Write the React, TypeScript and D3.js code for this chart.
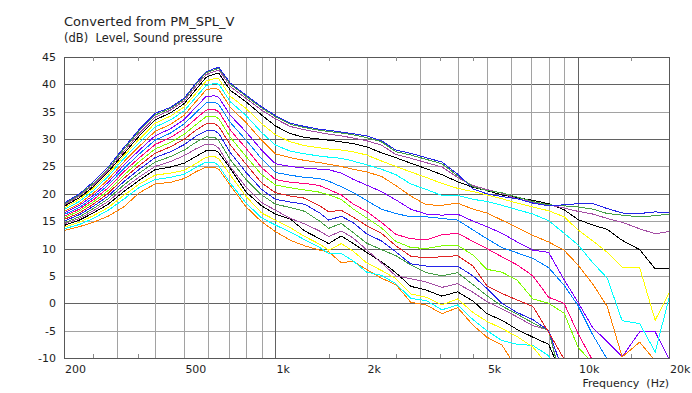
import { useEffect, useRef } from "react";
import * as d3 from "d3";

// frequency points (Hz)
const freqs = [200, 225, 250, 280, 315, 355, 400, 450, 500, 545, 590, 630, 650, 710, 800, 900, 1000,
  1120, 1250, 1400, 1500, 1650, 1800, 2000, 2240, 2500, 2800, 3150, 3550, 4000, 4500, 5000, 5600,
  6300, 7100, 8000, 9000, 10000, 11200, 12500, 14000, 16000, 18000, 20000];

// SPL curves (dB), top curve first; null = below the plotted range
const c0 = [18.3, 20.0, 22.2, 24.9, 28.4, 31.8, 34.7, 35.8, 37.5, 40.2, 42.3, 42.9, 43.1, 40.2, 38.0, 35.9, 34.3, 32.9, 32.3, 31.8, 31.6, 31.3, 31.0, 30.6, 29.7, 28.0, 27.4, 26.6, 25.8, 23.6, 20.9, 20.0, 19.5, 19.1, 18.3, 17.8, 18.0, 18.2, 18.2, 17.3, 16.5, 16.4, 16.7, 16.5];
const c1 = [18.1, 19.8, 21.9, 24.6, 28.1, 31.5, 34.4, 35.6, 37.3, 40.0, 42.1, 42.7, 42.9, 40.0, 37.8, 35.7, 34.1, 32.7, 32.1, 31.6, 31.4, 31.1, 30.8, 30.3, 29.5, 27.7, 27.1, 26.3, 25.5, 23.3, 21.3, 20.6, 20.2, 19.4, 18.6, 18.0, 17.8, 17.6, 17.2, 16.4, 16.1, 15.8, 16.0, 16.3];
const c2 = [17.9, 19.6, 21.6, 24.3, 27.7, 31.1, 34.0, 35.3, 37.0, 39.6, 41.8, 42.4, 42.6, 39.6, 37.4, 35.3, 33.7, 32.3, 31.7, 31.2, 30.9, 30.6, 30.2, 29.7, 28.9, 27.2, 26.5, 25.7, 24.9, 23.0, 21.5, 20.8, 20.1, 19.1, 18.5, 18.0, 17.4, 16.8, 16.3, 15.5, 14.8, 13.6, 12.7, 13.1];
const c3 = [17.7, 19.3, 21.3, 24.0, 27.3, 30.6, 33.5, 34.8, 36.5, 39.0, 41.3, 41.9, 42.0, 38.9, 36.8, 34.4, 32.4, 31.0, 30.3, 30.0, 29.8, 29.5, 29.2, 28.6, 27.5, 26.6, 25.6, 24.6, 23.5, 22.2, 21.2, 20.6, 19.8, 19.3, 18.8, 18.2, 17.1, 15.3, 14.3, 13.5, 11.5, 9.8, 6.3, 6.3];
const c4 = [17.4, 19.0, 21.0, 23.6, 26.9, 30.0, 32.9, 34.2, 35.9, 38.3, 40.6, 41.1, 41.0, 37.8, 35.6, 32.8, 30.8, 29.5, 28.8, 28.4, 28.2, 28.0, 27.7, 27.1, 26.0, 25.0, 24.0, 23.0, 21.9, 21.0, 20.4, 19.8, 19.1, 18.3, 17.6, 16.9, 15.8, 13.4, 11.4, 9.3, 6.6, 6.5, -3.1, 1.8];
const c5 = [17.1, 18.6, 20.6, 23.2, 26.4, 29.4, 32.2, 33.5, 35.2, 37.6, 39.8, 40.2, 40.0, 36.8, 34.3, 31.2, 28.9, 27.8, 27.3, 26.9, 26.7, 26.5, 26.0, 25.3, 24.5, 23.5, 21.8, 20.8, 19.7, 19.7, 19.0, 18.6, 17.9, 17.1, 16.3, 15.1, 12.8, 10.7, 7.4, 4.6, -3.2, -3.7, -8.9, 0.9];
const c6 = [16.8, 18.2, 20.1, 22.6, 25.8, 28.7, 31.4, 32.7, 34.4, 36.8, 39.0, 39.3, 39.0, 35.8, 33.0, 29.8, 27.3, 26.6, 26.1, 25.7, 25.4, 25.0, 24.5, 24.0, 23.2, 21.5, 19.6, 18.0, 17.9, 18.3, 17.2, 16.5, 15.2, 13.8, 12.4, 11.2, 9.7, 7.0, 3.5, -0.6, -9.8, -7.1, -10.5, null];
const c7 = [16.5, 17.9, 19.7, 22.1, 25.2, 28.0, 30.6, 31.9, 33.6, 35.8, 37.8, 37.9, 37.6, 34.3, 31.3, 28.0, 25.5, 25.0, 24.7, 24.5, 24.4, 23.8, 22.7, 21.6, 20.4, 18.9, 17.2, 16.3, 16.1, 16.3, 15.0, 14.0, 12.8, 11.2, 9.7, 9.3, 4.3, 0.2, -4.5, -7.0, -9.8, -5.2, -5.2, -10.2];
const c8 = [16.2, 17.5, 19.3, 21.6, 24.6, 27.3, 29.8, 31.1, 32.8, 34.8, 36.6, 36.7, 36.3, 33.0, 29.8, 26.4, 23.9, 23.4, 23.0, 22.8, 22.3, 21.3, 20.3, 18.8, 17.2, 16.4, 15.8, 15.8, 15.5, 15.2, 13.4, 11.8, 10.2, 9.2, 8.2, 6.5, 3.3, -0.4, -5.8, -10.2, null, null, null, null];
const c9 = [15.9, 17.2, 18.9, 21.1, 24.0, 26.6, 29.0, 30.3, 31.9, 33.7, 35.3, 35.4, 35.0, 31.6, 28.3, 24.8, 22.6, 22.1, 21.9, 21.5, 20.8, 19.8, 18.2, 16.8, 14.8, 12.6, 11.8, 11.6, 12.5, 12.8, 11.3, 10.0, 8.5, 7.0, 5.0, 1.1, 0.0, -5.5, -10.5, null, null, null, null, null];
const c10 = [15.6, 16.9, 18.5, 20.6, 23.4, 25.9, 28.2, 29.4, 30.9, 32.6, 34.1, 34.2, 33.7, 30.3, 26.8, 23.5, 21.6, 21.1, 20.7, 20.3, 19.8, 19.0, 17.3, 15.6, 13.8, 11.3, 10.2, 10.0, 10.5, 10.6, 8.8, 6.2, 5.7, 4.2, 0.8, 0.0, -1.8, -8.0, -11.0, null, null, null, null, null];
const c11 = [15.3, 16.5, 18.1, 20.1, 22.8, 25.2, 27.4, 28.6, 30.0, 31.6, 32.8, 32.8, 32.3, 28.9, 25.4, 22.0, 20.2, 19.6, 19.2, 17.8, 16.7, 17.0, 15.8, 14.2, 12.8, 10.5, 8.6, 8.3, 8.5, 8.7, 6.8, 3.2, 1.8, 0.6, -0.6, -5.3, -10.2, null, null, null, null, null, null, null];
const c12 = [15.0, 16.2, 17.7, 19.6, 22.2, 24.5, 26.6, 27.7, 29.0, 30.5, 31.5, 31.5, 31.0, 27.5, 23.9, 20.8, 19.0, 18.5, 18.1, 16.5, 15.2, 15.9, 14.8, 12.7, 11.4, 9.4, 7.2, 6.8, 6.7, 6.8, 5.0, 2.7, 0.0, -1.7, -3.0, -5.0, -13.0, null, null, null, null, null, null, null];
const c13 = [14.7, 15.8, 17.3, 19.1, 21.6, 23.8, 25.8, 26.8, 28.0, 29.4, 30.4, 30.3, 29.7, 26.2, 22.6, 19.8, 18.1, 17.5, 16.8, 15.0, 13.7, 14.6, 13.0, 11.0, 9.8, 8.7, 7.0, 5.6, 5.0, 5.6, 3.4, 1.4, -0.5, -2.0, -3.6, -5.0, -16.0, null, null, null, null, null, null, null];
const c14 = [14.5, 15.5, 16.9, 18.6, 21.0, 23.1, 25.0, 25.9, 27.0, 28.2, 29.1, 28.9, 28.3, 24.9, 21.2, 18.4, 17.0, 15.5, 14.5, 13.2, 12.2, 13.2, 12.0, 9.8, 7.4, 5.0, 4.5, 3.9, 2.9, 3.6, 2.0, 0.3, -1.0, -2.5, -4.1, -4.9, -16.0, null, null, null, null, null, null, null];
const c15 = [14.2, 15.2, 16.5, 18.1, 20.4, 22.5, 24.4, 24.9, 25.6, 26.8, 27.9, 28.0, 27.5, 24.6, 20.3, 17.8, 16.3, 15.4, 13.2, 11.8, 10.9, 12.3, 11.0, 9.3, 7.6, 5.6, 3.1, 2.4, 1.3, 2.1, 0.4, -1.9, -3.1, -4.8, -6.2, -7.5, -14.0, null, null, null, null, null, null, null];
const c16 = [13.9, 14.8, 16.0, 17.5, 19.7, 21.8, 23.4, 23.8, 24.3, 25.5, 26.7, 26.8, 26.4, 23.4, 19.5, 16.5, 15.2, 13.8, 12.2, 10.8, 9.7, 10.9, 9.6, 7.4, 6.0, 4.5, 1.7, 1.1, -0.3, 0.8, -1.7, -3.3, -4.6, -6.1, -8.0, -11.5, null, null, null, null, null, null, null, null];
const c17 = [13.6, 14.4, 15.5, 17.0, 19.0, 21.2, 22.6, 23.0, 23.6, 24.8, 25.8, 25.7, 25.1, 21.9, 18.3, 15.6, 14.3, 13.0, 11.6, 10.2, 9.1, 9.1, 7.8, 5.7, 5.1, 3.6, 0.9, 0.5, -1.2, -0.3, -3.0, -5.0, -6.8, -7.5, -7.7, -9.6, -14.0, null, null, null, null, null, null, null];
const c18 = [13.3, 14.0, 14.8, 15.9, 17.6, 20.2, 21.8, 22.1, 22.8, 24.0, 24.9, 24.8, 24.5, 21.5, 17.6, 14.9, 13.1, 11.5, 10.5, 9.7, 9.4, 7.4, 7.7, 6.2, 4.6, 3.4, 0.2, -0.3, -1.9, -0.8, -4.0, -6.2, -7.6, -12.0, null, null, null, null, null, null, null, null, null, null];

const curves = [c0, c1, c2, c3, c4, c5, c6, c7, c8, c9, c10, c11, c12, c13, c14, c15, c16, c17, c18];

// colour cycle, applied from the top curve down
const palette = ["#2424e8", "#46a046", "#a44ea4", "#000000", "#ffff00", "#00ffff",
  "#ff8000", "#8000ff", "#0080ff", "#ff0080", "#80ff00", "#e02424"];

const yTicks = [-10, -5, 0, 5, 10, 15, 20, 25, 30, 35, 40, 45];
const xTickValues = [200, 500, 1000, 2000, 5000, 10000, 20000];
const xTickLabels = ["200", "500", "1k", "2k", "5k", "10k", "20k"];
const xGrid = [300, 400, 500, 600, 700, 800, 900, 1000, 2000, 3000, 4000, 5000, 6000, 7000, 8000, 9000, 10000];
const xMinor = [250, 350, 1500, 2500, 3500, 4500, 15000];

export default function App() {
  const ref = useRef<SVGSVGElement>(null);

  useEffect(() => {
    document.body.style.margin = "0";
    const svg = d3.select(ref.current);
    svg.selectAll("*").remove();

    const x = d3.scaleLog().domain([200, 20000]).range([64, 669]);
    const y = d3.scaleLinear().domain([-10, 45]).range([358, 57]);
    const font = "DejaVu Sans, Verdana, sans-serif";
    const px = (v: number) => Math.round(v) + 0.5;

    svg.append("rect").attr("width", 692).attr("height", 393).attr("fill", "#fff");

    // grid
    const grid = svg.append("g").attr("shape-rendering", "crispEdges");
    grid.selectAll(".hg")
      .data(yTicks.filter((v) => v > -10 && v < 45))
      .join("line")
      .attr("x1", x(200)).attr("x2", x(20000))
      .attr("y1", (d) => px(y(d))).attr("y2", (d) => px(y(d)))
      .attr("stroke", (d) => (d % 10 === 0 ? "#626262" : "#a2a2a2"));
    grid.selectAll(".vg")
      .data(xGrid)
      .join("line")
      .attr("x1", (d) => px(x(d))).attr("x2", (d) => px(x(d)))
      .attr("y1", y(45)).attr("y2", y(-10))
      .attr("stroke", (d) => (d === 1000 || d === 10000 ? "#626262" : "#a2a2a2"));

    // curves
    svg.append("clipPath").attr("id", "plot-clip")
      .append("rect")
      .attr("x", x(200)).attr("y", y(45))
      .attr("width", x(20000) - x(200)).attr("height", y(-10) - y(45));

    const line = d3.line<number | null>()
      .defined((d) => d !== null)
      .x((_, i) => x(freqs[i]))
      .y((d) => y(d as number));

    svg.append("g")
      .attr("clip-path", "url(#plot-clip)")
      .selectAll("path")
      .data(curves.map((c, i) => ({ c, i })).reverse())
      .join("path")
      .attr("d", (d) => line(d.c))
      .attr("fill", "none")
      .attr("stroke", (d) => palette[d.i % palette.length])
      .attr("stroke-width", 1)
      .attr("shape-rendering", "crispEdges");

    // frame and minor ticks
    const frame = svg.append("g").attr("shape-rendering", "crispEdges");
    frame.append("rect")
      .attr("x", px(x(200))).attr("y", px(y(45)))
      .attr("width", Math.round(x(20000) - x(200))).attr("height", Math.round(y(-10) - y(45)))
      .attr("fill", "none").attr("stroke", "#585858");
    frame.selectAll(".mt")
      .data(xMinor)
      .join("line")
      .attr("x1", (d) => px(x(d))).attr("x2", (d) => px(x(d)))
      .attr("y1", y(45)).attr("y2", y(45) + 4)
      .attr("stroke", "#8a8a8a");
    frame.selectAll(".mb")
      .data(xMinor)
      .join("line")
      .attr("x1", (d) => px(x(d))).attr("x2", (d) => px(x(d)))
      .attr("y1", y(-10) - 4).attr("y2", y(-10))
      .attr("stroke", "#8a8a8a");

    // y tick labels
    svg.append("g")
      .selectAll("text")
      .data(yTicks)
      .join("text")
      .attr("x", 56)
      .attr("y", (d) => y(d) + 4)
      .attr("text-anchor", "end")
      .attr("font-family", font)
      .attr("font-size", 11)
      .attr("fill", "#1e1e1e")
      .text((d) => d);

    // x tick labels
    svg.append("g")
      .selectAll("text")
      .data(xTickValues)
      .join("text")
      .attr("x", (d) => x(d) + 1)
      .attr("y", 373)
      .attr("font-family", font)
      .attr("font-size", 11)
      .attr("fill", "#1e1e1e")
      .text((_, i) => xTickLabels[i]);

    svg.append("text")
      .attr("x", 669).attr("y", 387)
      .attr("text-anchor", "end")
      .attr("font-family", font).attr("font-size", 11)
      .attr("fill", "#1e1e1e")
      .attr("xml:space", "preserve")
      .text("Frequency  (Hz)");

    svg.append("text")
      .attr("x", 64).attr("y", 25.5)
      .attr("font-family", font).attr("font-size", 13)
      .attr("fill", "#1e1e1e")
      .text("Converted from PM_SPL_V");

    svg.append("text")
      .attr("x", 64).attr("y", 42)
      .attr("font-family", font).attr("font-size", 11.5)
      .attr("fill", "#1e1e1e")
      .attr("xml:space", "preserve")
      .text("(dB)  Level, Sound pressure");
  }, []);

  return <svg ref={ref} width={692} height={393} style={{ display: "block" }} />;
}
